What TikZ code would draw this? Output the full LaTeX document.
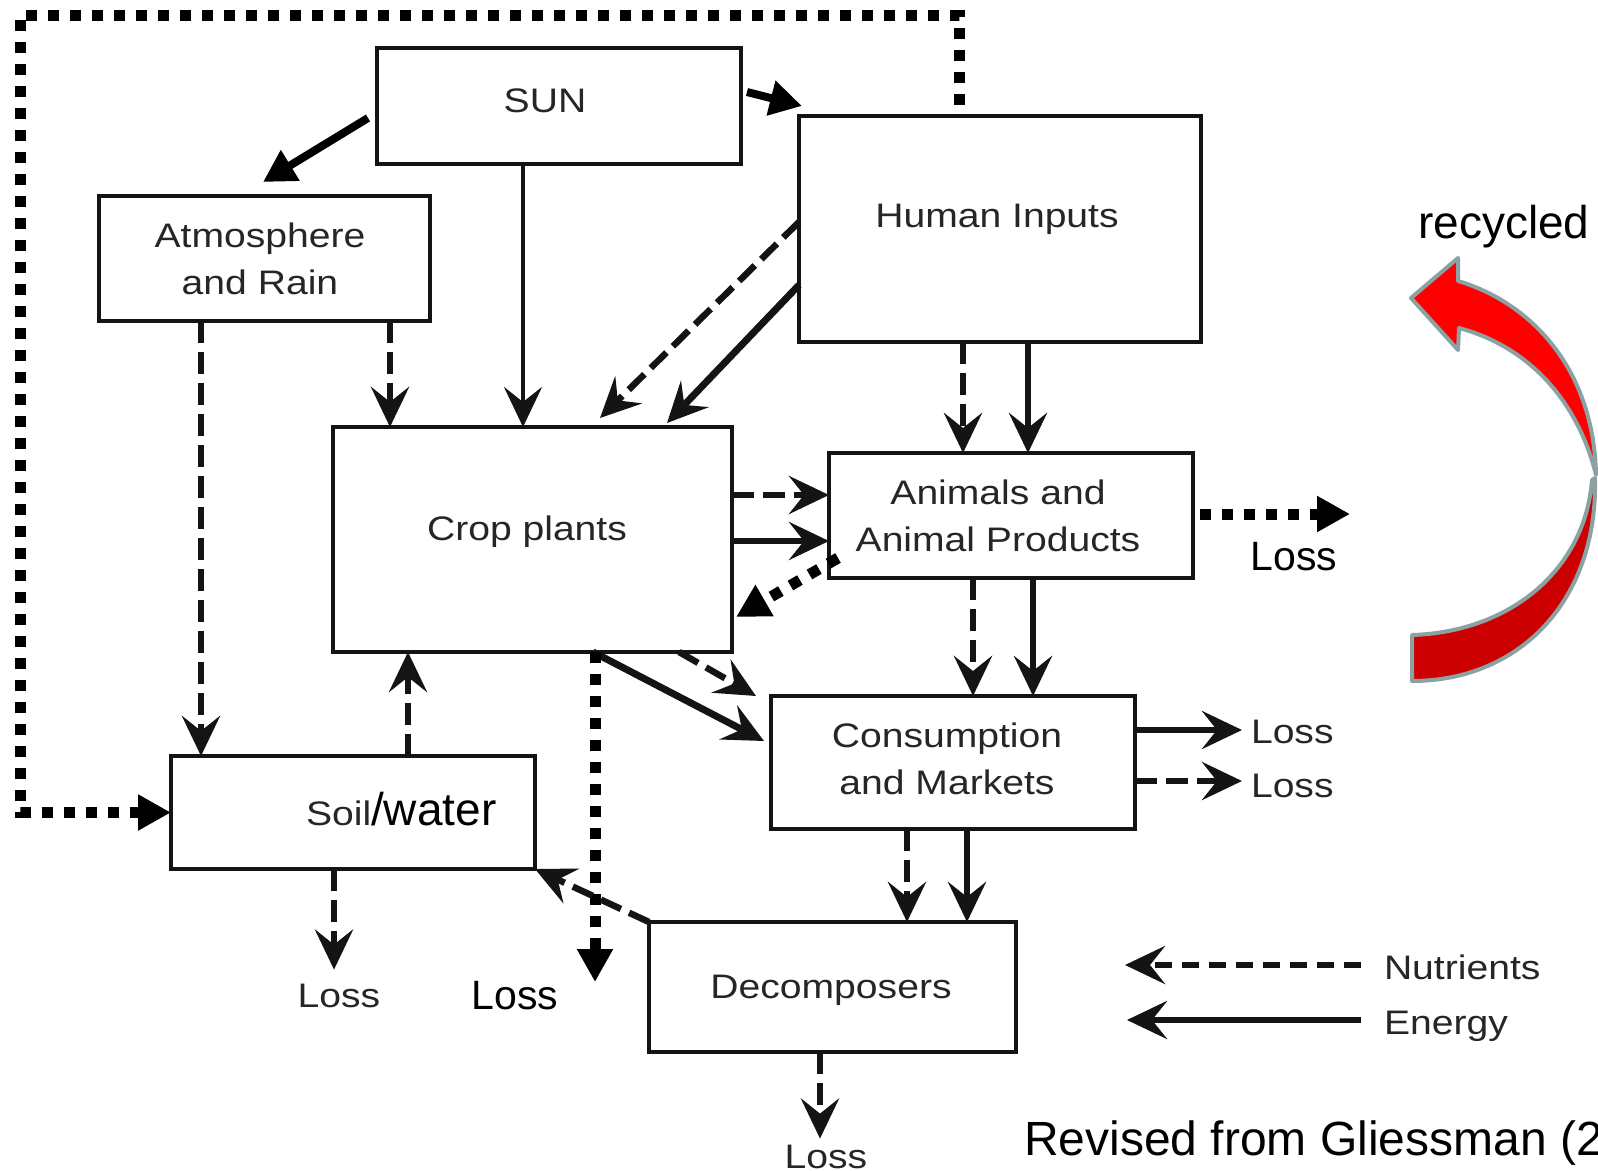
\documentclass[tikz,border=0pt]{standalone}
\usepackage{fontspec}
\setmainfont{Liberation Sans}
\newfontfamily\scanfont[FakeStretch=1.15]{Liberation Sans}
\usetikzlibrary{arrows.meta}
\definecolor{ink}{HTML}{141414}
\definecolor{scantxt}{HTML}{262626}
\definecolor{redA}{HTML}{FF0000}
\definecolor{redB}{HTML}{CC0000}
\definecolor{rim}{HTML}{8CA2A2}
\begin{document}
\begin{tikzpicture}[x=1pt,y=-1pt,
  box/.style={draw=ink,line width=3.5pt,inner sep=0pt,outer sep=0pt},
  st/.style={font=\scanfont\fontsize{34}{47}\selectfont,text=scantxt,inner sep=0pt,outer sep=0pt,align=center},
  arialtxt/.style={font=\fontsize{41}{49}\selectfont,text=black,inner sep=0pt,outer sep=0pt},
  nd/.style={draw=ink,line width=6.5pt,dash pattern=on 22pt off 9pt,-{Stealth[length=40pt,width=38pt,inset=15pt]}},
  en/.style={draw=ink,line width=6pt,-{Stealth[length=40pt,width=38pt,inset=15pt]}},
  enthin/.style={en,line width=4pt},
  dl/.style={draw=black,line width=11pt,dash pattern=on 11pt off 11pt},
  da/.style={dl,-{Triangle[length=33pt,width=34pt]}},
  ba/.style={draw=black,line width=8pt,-{Triangle[length=32pt,width=34pt]}}
]
\fill[white] (0,0) rectangle (1598,1170);
\useasboundingbox (0,0) rectangle (1598,1170);

% boxes
\node[box,minimum width=364pt,minimum height=116pt] (sun) at (559,106) {};
\node[box,minimum width=331pt,minimum height=125pt] (atm) at (264.5,258.5) {};
\node[box,minimum width=402pt,minimum height=226pt] (hum) at (1000,229) {};
\node[box,minimum width=399pt,minimum height=225pt] (crop) at (532.5,539.5) {};
\node[box,minimum width=364pt,minimum height=125pt] (anim) at (1011,515.5) {};
\node[box,minimum width=364pt,minimum height=133pt] (cons) at (953,762.5) {};
\node[box,minimum width=364pt,minimum height=113pt] (soil) at (353,812.5) {};
\node[box,minimum width=367pt,minimum height=130pt] (dec) at (832.5,987) {};

% box texts
\node[st,anchor=base] (sunT) at (545,112) {SUN};
\node[st] (atmT) at (260,259) {Atmosphere\\and Rain};
\node[st,anchor=base] (humT) at (997,227) {Human Inputs};
\node[st,anchor=base] (cropT) at (527,540) {Crop plants};
\node[st] (animT) at (998,516) {Animals and\\Animal Products};
\node[st] (consT) at (947,759) {Consumption\\and Markets};
\node[st,anchor=base] (decT) at (831,998) {Decomposers};
\node[st,anchor=base west] (soilT) at (306,825) {Soil{\normalfont\color{black}\fontsize{46}{50}\selectfont/water}};

% scanned labels
\node[st,anchor=base] (L1) at (339,1007) {Loss};
\node[st,anchor=base west] (L2) at (1251,743) {Loss};
\node[st,anchor=base west] (L3) at (1251,797) {Loss};
\node[st,anchor=base] (L4) at (826,1168) {Loss};
\node[st,anchor=base west] (nutT) at (1384,979) {Nutrients};
\node[st,anchor=base west] (enT) at (1384,1034) {Energy};

% added labels
\node[font=\fontsize{46}{52}\selectfont,anchor=base west,inner sep=0pt] (rec) at (1418,238) {recycled};
\node[arialtxt,anchor=base] (LA) at (1294,570) {Loss};
\node[arialtxt,anchor=base] (LC) at (515,1009) {Loss};
\node[font=\fontsize{48}{56}\selectfont,anchor=base west,inner sep=0pt] (rev) at (1024,1155) {Revised from Gliessman (2};

% dotted loop
\coordinate (hl) at ([xshift=-41pt,yshift=11pt]hum.north);
\coordinate (tl) at (20,15);
\draw[da] (hl) |- (tl) |- (soil.west);

% sun arrows
\draw[ba] ([xshift=-9pt,yshift=-12pt]sun.west) -- ([xshift=-1.5pt,yshift=14pt]atm.north);
\draw[ba] ([xshift=6pt,yshift=14pt]sun.east) -- ([xshift=3pt,yshift=10pt]hum.north west);
\coordinate (s1) at ([xshift=-36pt]sun.south);
\draw[enthin] (s1) -- (s1 |- crop.north);

% atmosphere
\coordinate (a1) at ([xshift=-63.5pt]atm.south);
\draw[nd] (a1) -- (a1 |- soil.north);
\coordinate (a2) at ([xshift=125.5pt]atm.south);
\draw[nd] (a2) -- (a2 |- crop.north);

% human inputs
\draw[nd] ([yshift=7pt]hum.west) -- ([xshift=67.5pt,yshift=9pt]crop.north);
\draw[en,line width=7pt] ([yshift=-56pt]hum.west) -- ([xshift=134.5pt,yshift=4pt]crop.north);
\coordinate (h1) at ([xshift=-37pt]hum.south);
\draw[nd] (h1) -- (h1 |- anim.north);
\coordinate (h2) at ([xshift=28pt]hum.south);
\draw[en] (h2) -- (h2 |- anim.north);

% crop to animals
\coordinate (c1) at ([yshift=44.5pt]crop.east);
\draw[nd] (c1) -- (c1 -| anim.west);
\coordinate (c2) at ([yshift=-1.5pt]crop.east);
\draw[en] (c2) -- (c2 -| anim.west);

% animals
\draw[da] ([xshift=9pt,yshift=20pt]anim.south west) -- ([xshift=4pt,yshift=-77.5pt]crop.east);
\coordinate (aloss) at (1350,514);
\draw[da] ([xshift=7pt,yshift=1.5pt]anim.east) -- (aloss);
\coordinate (n1) at ([xshift=-38pt]anim.south);
\draw[nd] (n1) -- (n1 |- cons.north);
\coordinate (n2) at ([xshift=22pt]anim.south);
\draw[en] (n2) -- (n2 |- cons.north);

% crop to consumption and loss
\draw[nd] ([xshift=-53pt]crop.south east) -- ([xshift=-15pt]cons.north west);
\draw[en,line width=7pt] ([xshift=60.5pt]crop.south) -- ([xshift=-7pt,yshift=21.5pt]cons.west);
\coordinate (cl0) at ([xshift=62.5pt]crop.south);
\coordinate (closs) at (595,982);
\draw[da] (cl0) -- (closs);

% consumption
\coordinate (k1) at ([yshift=32.5pt]cons.east);
\draw[en,shorten >=9pt] (k1) -- (k1 -| L2.west);
\coordinate (k2) at ([yshift=-18.5pt]cons.east);
\draw[nd,shorten >=9pt] (k2) -- (k2 -| L3.west);
\coordinate (d1) at ([xshift=-46pt]cons.south);
\draw[nd] (d1) -- (d1 |- dec.north);
\coordinate (d2) at ([xshift=14pt]cons.south);
\draw[en] (d2) -- (d2 |- dec.north);

% decomposers and soil
\draw[nd] (dec.north west) -- (soil.south east);
\coordinate (sl) at ([xshift=-19pt]soil.south);
\draw[nd,shorten >=14pt] (sl) -- (sl |- L1.north);
\coordinate (sc) at ([xshift=55pt]soil.north);
\draw[nd] (sc) -- (sc |- crop.south);
\coordinate (dl0) at ([xshift=-12.5pt]dec.south);
\draw[nd,shorten >=6pt] (dl0) -- (dl0 |- L4.north);

% legend
\coordinate (g1) at (1361,965);
\coordinate (g2) at (1125,965);
\draw[nd,dash pattern=on 17pt off 10pt] (g1) -- (g2);
\coordinate (g3) at (1361,1020);
\coordinate (g4) at (1127,1020);
\draw[en] (g3) -- (g4);

% red recycle arrow
\filldraw[fill=redB,draw=rim,line width=4pt,line join=round]
  (1595,478) .. controls (1598,600) and (1520,681) .. (1412,681)
  -- (1412,635) .. controls (1510,632) and (1585,570) .. (1592,480) -- cycle;
\filldraw[fill=redA,draw=rim,line width=4pt,line join=round]
  (1411,298) -- (1458,258) -- (1458,281)
  .. controls (1532,303) and (1594,370) .. (1596,475)
  .. controls (1578,402) and (1530,347) .. (1459,328)
  -- (1458,350) -- cycle;
\end{tikzpicture}
\end{document}
